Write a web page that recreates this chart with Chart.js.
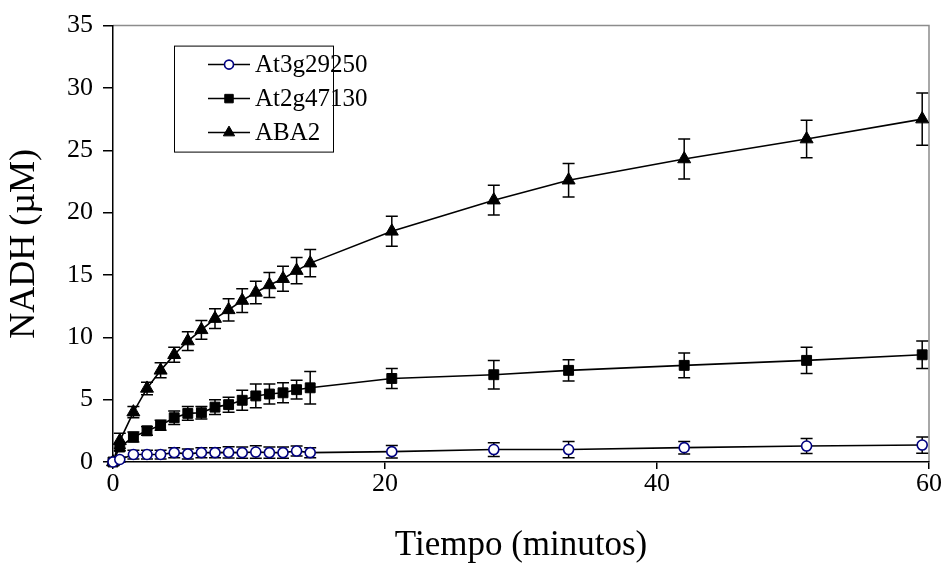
<!DOCTYPE html>
<html>
<head>
<meta charset="utf-8">
<script src="https://cdn.jsdelivr.net/npm/chart.js"></script>
<style>
  body { margin: 0; background: #fff; }
  #wrap { width: 944px; height: 567px; }
</style>
</head>
<body>
<div id="wrap"><canvas id="myChart"></canvas></div>
<script>
const tiempo = [0, 0.5, 1.5, 2.5, 3.5, 4.5, 5.5, 6.5, 7.5, 8.5, 9.5, 10.5, 11.5, 12.5, 13.5, 14.5, 20.5, 28, 33.5, 42, 51, 59.5];

const at3g29250 = [0, 0.2, 0.6, 0.6, 0.6, 0.75, 0.65, 0.75, 0.75, 0.77, 0.75, 0.8, 0.75, 0.75, 0.88, 0.75, 0.83, 1.0, 1.0, 1.15, 1.28, 1.36];
const at3g29250Err = [0, 0.2, 0.35, 0.35, 0.35, 0.4, 0.4, 0.4, 0.4, 0.45, 0.45, 0.5, 0.45, 0.45, 0.4, 0.4, 0.5, 0.55, 0.65, 0.5, 0.6, 0.65];

const at2g47130 = [0, 1.2, 2.0, 2.5, 2.95, 3.55, 3.9, 3.95, 4.4, 4.6, 4.95, 5.3, 5.45, 5.55, 5.8, 5.95, 6.7, 7.0, 7.35, 7.75, 8.15, 8.6];
const at2g47130Err = [0, 0.3, 0.4, 0.35, 0.4, 0.55, 0.55, 0.5, 0.6, 0.6, 0.8, 0.95, 0.8, 0.8, 0.75, 1.3, 0.8, 1.15, 0.85, 1.0, 1.05, 1.1];

const aba2 = [0, 1.7, 4.0, 5.9, 7.35, 8.6, 9.7, 10.6, 11.5, 12.2, 12.95, 13.6, 14.2, 14.7, 15.35, 15.95, 18.5, 21.0, 22.6, 24.3, 25.9, 27.5];
const aba2Err = [0, 0.6, 0.45, 0.5, 0.6, 0.6, 0.75, 0.75, 0.8, 0.9, 0.95, 0.9, 1.0, 1.0, 1.05, 1.1, 1.2, 1.2, 1.35, 1.6, 1.5, 2.1];

const xTicks = [0, 20, 40, 60];
const yTicks = [0, 5, 10, 15, 20, 25, 30, 35];

const serif = "'Liberation Serif', 'Times New Roman', serif";
Chart.defaults.font.family = serif;
Chart.defaults.color = '#000';

function points(values) {
    return tiempo.map((t, i) => ({ x: t, y: values[i] }));
}

// error bars are drawn behind the markers
const errorBars = {
    id: 'errorBars',
    beforeDatasetsDraw(chart) {
        const ctx = chart.ctx;
        const xs = chart.scales.x;
        const ys = chart.scales.y;
        ctx.save();
        ctx.strokeStyle = '#000';
        ctx.lineWidth = 1.5;
        chart.data.datasets.forEach(ds => {
            ds.data.forEach((p, i) => {
                const e = ds.errors[i];
                if (!e) return;
                const x = xs.getPixelForValue(p.x);
                const top = ys.getPixelForValue(p.y + e);
                const bot = ys.getPixelForValue(p.y - e);
                ctx.beginPath();
                ctx.moveTo(x, top); ctx.lineTo(x, bot);
                ctx.moveTo(x - 6, top); ctx.lineTo(x + 6, top);
                ctx.moveTo(x - 6, bot); ctx.lineTo(x + 6, bot);
                ctx.stroke();
            });
        });
        ctx.restore();
    }
};

// grey top/right edge of the plot area
const plotFrame = {
    id: 'plotFrame',
    beforeDraw(chart) {
        const { ctx, chartArea: a } = chart;
        ctx.save();
        ctx.strokeStyle = '#8c8c8c';
        ctx.lineWidth = 1.5;
        ctx.beginPath();
        ctx.moveTo(a.left, a.top);
        ctx.lineTo(a.right, a.top);
        ctx.lineTo(a.right, a.bottom);
        ctx.stroke();
        ctx.restore();
    }
};

const legendBox = {
    id: 'legendBox',
    afterDraw(chart) {
        const { ctx, chartArea: a } = chart;
        const x0 = a.left + 61;
        const y0 = a.top + 20;
        ctx.save();
        ctx.strokeStyle = '#000';
        ctx.lineWidth = 1;
        ctx.strokeRect(x0 + 0.5, y0 + 0.5, 159, 106);
        chart.data.datasets.forEach((ds, i) => {
            const y = y0 + 19 + i * 34;
            ctx.beginPath();
            ctx.moveTo(x0 + 34, y);
            ctx.lineTo(x0 + 76, y);
            ctx.strokeStyle = '#000';
            ctx.lineWidth = 1.5;
            ctx.stroke();
            ctx.fillStyle = ds.pointBackgroundColor;
            ctx.strokeStyle = ds.pointBorderColor;
            ctx.lineWidth = ds.pointBorderWidth;
            Chart.helpers.drawPoint(ctx, {
                pointStyle: ds.pointStyle,
                radius: ds.legendRadius,
                borderWidth: ds.pointBorderWidth,
                rotation: 0
            }, x0 + 55, y);
            ctx.fillStyle = '#000';
            ctx.font = '25px ' + serif;
            ctx.textBaseline = 'middle';
            ctx.textAlign = 'left';
            ctx.fillText(ds.label, x0 + 81, y + 1);
        });
        ctx.restore();
    }
};

const ctx = document.getElementById('myChart');

let chart = new Chart(ctx, {
    type: 'line',
    data: {
        datasets: [{
            label: 'At3g29250',
            data: points(at3g29250),
            errors: at3g29250Err,
            borderColor: '#000',
            borderWidth: 1.6,
            pointStyle: 'circle',
            pointRadius: 5,
            legendRadius: 4.5,
            pointBackgroundColor: '#fff',
            pointBorderColor: '#000080',
            pointBorderWidth: 1.6,
            clip: false
        }, {
            label: 'At2g47130',
            data: points(at2g47130),
            errors: at2g47130Err,
            borderColor: '#000',
            borderWidth: 1.6,
            pointStyle: 'rect',
            pointRadius: 7,
            legendRadius: 6,
            pointBackgroundColor: '#000',
            pointBorderColor: '#000',
            pointBorderWidth: 1,
            clip: false
        }, {
            label: 'ABA2',
            data: points(aba2),
            errors: aba2Err,
            borderColor: '#000',
            borderWidth: 1.6,
            pointStyle: 'triangle',
            pointRadius: 7.5,
            legendRadius: 6.5,
            pointBackgroundColor: '#000',
            pointBorderColor: '#000',
            pointBorderWidth: 1,
            clip: false
        }]
    },
    options: {
        responsive: true,
        maintainAspectRatio: false,
        animation: false,
        layout: { padding: { top: 24, right: 15, left: 0, bottom: 0 } },
        plugins: {
            legend: { display: false },
            tooltip: { enabled: false }
        },
        scales: {
            x: {
                type: 'linear',
                min: 0,
                max: 60,
                afterFit: s => { s.height = 105; },
                afterBuildTicks: s => { s.ticks = xTicks.map(v => ({ value: v })); },
                ticks: { font: { size: 26 }, padding: 0, maxRotation: 0 },
                grid: { drawOnChartArea: false, tickLength: 7, color: '#000', lineWidth: 1.5 },
                border: { color: '#000', width: 1.5 },
                title: { display: true, text: 'Tiempo (minutos)', font: { size: 35 }, padding: { bottom: 0 } }
            },
            y: {
                min: 0,
                max: 35,
                afterFit: s => { s.width = 113; },
                afterBuildTicks: s => { s.ticks = yTicks.map(v => ({ value: v })); },
                ticks: { font: { size: 26 }, padding: 10 },
                grid: { drawOnChartArea: false, tickLength: 10, color: '#000', lineWidth: 1.5 },
                border: { color: '#000', width: 1.5 },
                title: { display: true, text: 'NADH (µM)', font: { size: 36 }, padding: { top: 3 } }
            }
        }
    },
    plugins: [plotFrame, errorBars, legendBox]
});
</script>
</body>
</html>
